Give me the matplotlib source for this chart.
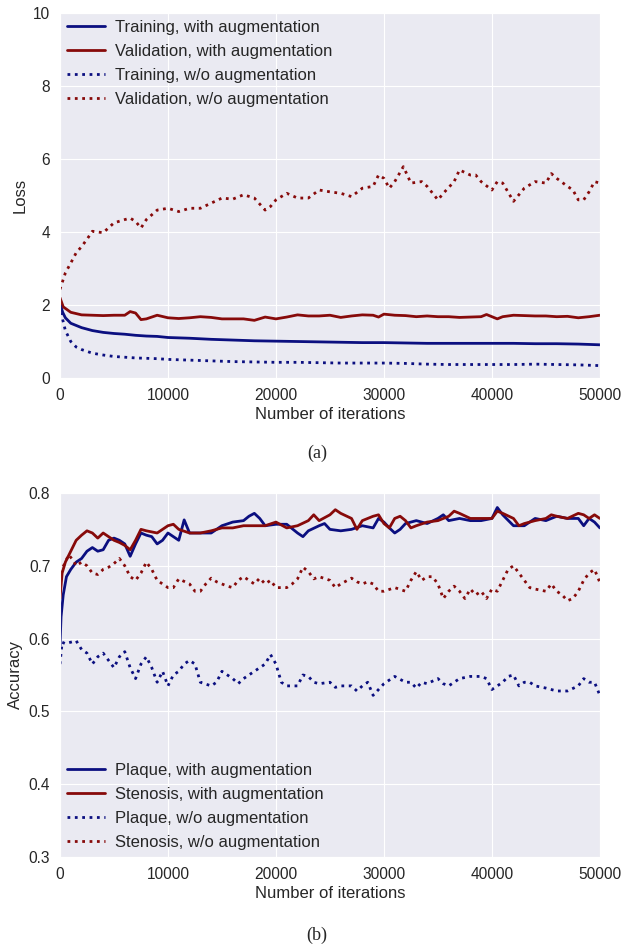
import matplotlib
matplotlib.use('Agg')
import matplotlib.pyplot as plt
import seaborn as sns

# ---------------- (a) loss ----------------
it_val_noaug = [0, 500, 1000, 1500, 2000, 2500, 3000, 4000, 5000, 6000, 6500, 7000, 7500, 8000, 9000,
                10000, 11000, 12000, 13000, 14000, 15000, 16000, 17000, 18000, 19000, 19500, 20000,
                21000, 22000, 23000, 24000, 25000, 26000, 27000, 28000, 29000, 29500, 30000, 30500,
                31000, 31800, 32500, 33500, 34000, 35000, 35500, 36500, 37000, 38000, 38500, 39000,
                40000, 40500, 41000, 42000, 43000, 44000, 45000, 45500, 46000, 47000, 47500, 48000,
                48500, 49000, 49500, 50000]
loss_val_noaug = [2.43, 2.88, 3.15, 3.43, 3.6, 3.8, 4.02, 3.98, 4.25, 4.34, 4.38, 4.29, 4.11, 4.34, 4.6,
                  4.65, 4.56, 4.65, 4.65, 4.79, 4.93, 4.9, 5.02, 4.93, 4.6, 4.7, 4.88,
                  5.06, 4.93, 4.93, 5.15, 5.1, 5.06, 4.97, 5.2, 5.25, 5.56, 5.47, 5.2,
                  5.38, 5.79, 5.34, 5.38, 5.25, 4.88, 5.06, 5.38, 5.7, 5.56, 5.56, 5.38,
                  5.15, 5.38, 5.34, 4.84, 5.2, 5.38, 5.34, 5.6, 5.47, 5.25, 5.15, 4.88,
                  4.88, 5.1, 5.38, 5.34]

it_val_aug = [0, 300, 1000, 2000, 3000, 4000, 5000, 6000, 6500, 7000, 7500, 8000, 9000, 10000, 11000,
              12000, 13000, 14000, 15000, 16000, 17000, 18000, 19000, 20000, 21000, 22000, 23000,
              24000, 25000, 26000, 27000, 28000, 29000, 29500, 30000, 31000, 32000, 33000, 34000,
              35000, 36000, 37000, 38000, 39000, 39500, 40500, 41000, 42000, 43000, 44000, 45000,
              46000, 47000, 48000, 49000, 50000]
loss_val_aug = [2.2, 1.95, 1.8, 1.73, 1.72, 1.71, 1.72, 1.72, 1.82, 1.78, 1.6, 1.62, 1.72, 1.65, 1.63,
                1.65, 1.68, 1.66, 1.62, 1.62, 1.62, 1.58, 1.67, 1.62, 1.67, 1.73, 1.7,
                1.7, 1.72, 1.66, 1.7, 1.73, 1.72, 1.67, 1.75, 1.72, 1.71, 1.68, 1.7,
                1.68, 1.68, 1.66, 1.67, 1.68, 1.74, 1.62, 1.68, 1.72, 1.71, 1.7, 1.7,
                1.68, 1.69, 1.65, 1.68, 1.72]

it_train = [0, 250, 500, 1000, 2000, 3000, 4000, 5000, 6000, 7000, 8000, 9000, 10000, 12000, 14000,
            16000, 18000, 20000, 22000, 24000, 26000, 28000, 30000, 32000, 34000, 36000, 38000,
            40000, 42000, 44000, 46000, 48000, 50000]
loss_train_aug = [2.05, 1.8, 1.65, 1.5, 1.38, 1.3, 1.25, 1.22, 1.2, 1.17, 1.15, 1.14, 1.11, 1.09, 1.06,
                  1.04, 1.02, 1.01, 1.0, 0.99, 0.98, 0.97, 0.97, 0.96, 0.95, 0.95, 0.95,
                  0.95, 0.95, 0.94, 0.94, 0.93, 0.91]

it_train_noaug = [0, 250, 500, 1000, 1500, 2000, 3000, 4000, 5000, 6000, 7000, 8000, 9000, 10000, 12000,
                  14000, 16000, 18000, 20000, 22000, 24000, 26000, 28000, 30000, 32000, 34000, 36000,
                  38000, 40000, 42000, 44000, 46000, 48000, 50000]
loss_train_noaug = [2.0, 1.6, 1.3, 1.0, 0.85, 0.78, 0.68, 0.63, 0.59, 0.57, 0.55, 0.54, 0.53, 0.51, 0.49,
                    0.47, 0.45, 0.44, 0.43, 0.43, 0.42, 0.41, 0.41, 0.41, 0.4, 0.38, 0.37,
                    0.37, 0.37, 0.37, 0.38, 0.37, 0.36, 0.34]

# ---------------- (b) accuracy ----------------
it_plaque_aug = [0, 100, 300, 600, 1000, 1500, 2000, 2500, 3000, 3500, 4000, 4500, 5000, 5500, 6000,
                 6500, 7000, 7500, 8000, 8500, 9000, 9500, 10000, 10500, 11000, 11500, 12000, 12500,
                 13000, 14000, 15000, 16000, 17000, 17500, 18000, 18500, 19000, 20000, 21000, 22000,
                 22500, 23000, 24000, 24500, 25000, 26000, 27000, 28000, 29000, 29500, 30000, 30500,
                 31000, 31500, 32000, 33000, 34000, 35000, 35500, 36000, 37000, 38000, 39000, 40000,
                 40500, 41000, 42000, 43000, 44000, 45000, 46000, 47000, 48000, 48500, 49000, 49500,
                 50000]
acc_plaque_aug = [0.59, 0.63, 0.66, 0.685, 0.695, 0.705, 0.71, 0.72, 0.725, 0.72, 0.722, 0.735, 0.738, 0.735, 0.73,
                  0.713, 0.73, 0.745, 0.742, 0.74, 0.73, 0.735, 0.745, 0.74, 0.735, 0.763, 0.745, 0.745,
                  0.745, 0.745, 0.755, 0.76, 0.762, 0.768, 0.772, 0.765, 0.755, 0.757, 0.757, 0.745,
                  0.74, 0.748, 0.755, 0.758, 0.75, 0.748, 0.75, 0.755, 0.752, 0.765, 0.76, 0.752,
                  0.745, 0.75, 0.758, 0.762, 0.758, 0.765, 0.77, 0.762, 0.765, 0.762, 0.762, 0.765,
                  0.78, 0.77, 0.755, 0.755, 0.765, 0.762, 0.768, 0.765, 0.765, 0.755, 0.765, 0.76,
                  0.752]

it_sten_aug = [0, 200, 500, 1000, 1500, 2000, 2500, 3000, 3500, 4000, 4500, 5000, 5500, 6000, 6500,
               7000, 7500, 8000, 9000, 10000, 10500, 11000, 12000, 13000, 14000, 15000, 16000, 17000,
               18000, 19000, 20000, 21000, 22000, 23000, 23500, 24000, 25000, 25500, 26000, 27000,
               27500, 28000, 29000, 29500, 30000, 30500, 31000, 31500, 32000, 32500, 33000, 34000,
               35000, 35500, 36000, 36500, 37000, 38000, 39000, 40000, 40500, 41000, 42000, 42500,
               43000, 44000, 45000, 45500, 46000, 47000, 48000, 48500, 49000, 49500, 50000]
acc_sten_aug = [0.655, 0.69, 0.705, 0.72, 0.735, 0.742, 0.748, 0.745, 0.738, 0.745, 0.74, 0.735, 0.732, 0.728, 0.722,
                0.735, 0.75, 0.748, 0.745, 0.755, 0.757, 0.75, 0.745, 0.745, 0.748, 0.752, 0.752, 0.755,
                0.755, 0.755, 0.76, 0.752, 0.755, 0.762, 0.77, 0.762, 0.77, 0.777, 0.772, 0.765,
                0.75, 0.762, 0.768, 0.77, 0.758, 0.752, 0.765, 0.768, 0.762, 0.752, 0.755, 0.76,
                0.762, 0.765, 0.768, 0.775, 0.772, 0.765, 0.765, 0.765, 0.775, 0.772, 0.765, 0.755,
                0.758, 0.762, 0.765, 0.77, 0.768, 0.765, 0.772, 0.77, 0.765, 0.77, 0.765]

it_sten_noaug = [0, 500, 800, 1200, 1500, 2000, 2500, 3000, 3500, 4000, 4500, 5000, 5500, 6000, 6500,
                 7000, 7500, 8000, 8500, 9000, 10000, 10500, 11000, 12000, 12500, 13000, 13500, 14000,
                 14500, 15000, 15500, 16000, 16500, 17000, 17500, 18000, 18500, 19000, 19500, 20000,
                 21000, 21500, 22000, 22500, 23000, 23500, 24000, 25000, 25500, 26000, 27000, 27500,
                 28000, 28500, 29000, 29500, 30000, 31000, 32000, 32500, 33000, 33500, 34000, 34500,
                 35000, 35500, 36000, 36500, 37000, 37500, 38000, 38500, 39000, 39500, 40000, 40500,
                 41000, 41500, 42000, 42500, 43000, 43500, 44000, 45000, 45500, 46000, 46500, 47000,
                 47500, 48000, 48500, 49000, 49500, 50000]
acc_sten_noaug = [0.69, 0.705, 0.715, 0.708, 0.7, 0.705, 0.7, 0.69, 0.688, 0.695, 0.698, 0.703, 0.71, 0.7, 0.685,
                  0.68, 0.69, 0.705, 0.695, 0.68, 0.67, 0.67, 0.682, 0.675, 0.665, 0.665, 0.675, 0.683,
                  0.678, 0.675, 0.672, 0.67, 0.68, 0.685, 0.68, 0.675, 0.683, 0.675, 0.68, 0.67,
                  0.67, 0.675, 0.682, 0.698, 0.692, 0.682, 0.685, 0.68, 0.67, 0.675, 0.683, 0.678,
                  0.675, 0.678, 0.675, 0.665, 0.665, 0.67, 0.665, 0.68, 0.692, 0.68, 0.685, 0.685,
                  0.675, 0.655, 0.665, 0.672, 0.665, 0.655, 0.668, 0.66, 0.665, 0.655, 0.668, 0.665,
                  0.68, 0.695, 0.7, 0.69, 0.68, 0.67, 0.668, 0.665, 0.675, 0.665, 0.66, 0.652,
                  0.655, 0.665, 0.68, 0.69, 0.695, 0.677]

it_plaque_noaug = [0, 200, 500, 1000, 1500, 2000, 2500, 3000, 3500, 4000, 4500, 5000, 5500, 6000, 6500,
                   7000, 7500, 8000, 8500, 9000, 9500, 10000, 10500, 11000, 11500, 12000, 12500, 13000,
                   14000, 14500, 15000, 15500, 16000, 16500, 17000, 17500, 18000, 18500, 19000, 19500,
                   20000, 20500, 21000, 22000, 22500, 23000, 23500, 24000, 25000, 25500, 26000, 27000,
                   27500, 28000, 28500, 29000, 29500, 30000, 31000, 32000, 32500, 33000, 33500, 34000,
                   35000, 35500, 36000, 36500, 37000, 38000, 39000, 39500, 40000, 40500, 41000, 41500,
                   42000, 42500, 43000, 43500, 44000, 45000, 46000, 47000, 48000, 48500, 49000, 49500,
                   50000]
acc_plaque_noaug = [0.565, 0.595, 0.593, 0.595, 0.597, 0.585, 0.58, 0.565, 0.575, 0.58, 0.57, 0.56, 0.575, 0.582, 0.56,
                    0.545, 0.565, 0.575, 0.56, 0.54, 0.555, 0.535, 0.55, 0.555, 0.565, 0.57, 0.565, 0.54,
                    0.535, 0.54, 0.555, 0.55, 0.545, 0.538, 0.545, 0.55, 0.555, 0.56, 0.565, 0.578,
                    0.565, 0.54, 0.535, 0.535, 0.55, 0.548, 0.54, 0.538, 0.54, 0.533, 0.535, 0.535,
                    0.528, 0.535, 0.54, 0.522, 0.53, 0.538, 0.548, 0.54, 0.54, 0.532, 0.54, 0.538,
                    0.545, 0.538, 0.535, 0.54, 0.545, 0.548, 0.548, 0.545, 0.53, 0.535, 0.54, 0.548,
                    0.55, 0.535, 0.54, 0.54, 0.535, 0.532, 0.528, 0.528, 0.535, 0.545, 0.54, 0.54,
                    0.522]

xticks = [0, 10000, 20000, 30000, 40000, 50000]
blue = '#0b0f80'
red = '#870a0a'

sns.set_style('darkgrid')
plt.rcParams['font.family'] = ['Liberation Sans', 'DejaVu Sans']

fig = plt.figure(figsize=(6.3, 9.46), dpi=100)
ax1 = fig.add_axes([0.0952, 0.6004, 0.857, 0.3859])
ax2 = fig.add_axes([0.0952, 0.0941, 0.857, 0.3848])

leg_kw = dict(frameon=False, fontsize=12, handlelength=2.3, handletextpad=0.6,
              labelspacing=0.55, borderaxespad=0.1, borderpad=0.3)

ax1.plot(it_train, loss_train_aug, color=blue, lw=2, label='Training, with augmentation')
ax1.plot(it_val_aug, loss_val_aug, color=red, lw=2, label='Validation, with augmentation')
ax1.plot(it_train_noaug, loss_train_noaug, color=blue, lw=2, ls=':', label='Training, w/o augmentation')
ax1.plot(it_val_noaug, loss_val_noaug, color=red, lw=2, ls=':', label='Validation, w/o augmentation')
ax1.set_xlim(0, 50000)
ax1.set_ylim(0, 10)
ax1.set_xticks(xticks)
ax1.set_yticks([0, 2, 4, 6, 8, 10])
ax1.set_xlabel('Number of iterations', fontsize=12, labelpad=3)
ax1.set_ylabel('Loss', fontsize=12)
ax1.tick_params(labelsize=11.2)
ax1.legend(loc='upper left', **leg_kw)

ax2.plot(it_plaque_aug, acc_plaque_aug, color=blue, lw=2, label='Plaque, with augmentation')
ax2.plot(it_sten_aug, acc_sten_aug, color=red, lw=2, label='Stenosis, with augmentation')
ax2.plot(it_plaque_noaug, acc_plaque_noaug, color=blue, lw=2, ls=':', label='Plaque, w/o augmentation')
ax2.plot(it_sten_noaug, acc_sten_noaug, color=red, lw=2, ls=':', label='Stenosis, w/o augmentation')
ax2.set_xlim(0, 50000)
ax2.set_ylim(0.3, 0.8)
ax2.set_xticks(xticks)
ax2.set_yticks([0.3, 0.4, 0.5, 0.6, 0.7, 0.8])
ax2.set_xlabel('Number of iterations', fontsize=12, labelpad=3)
ax2.set_ylabel('Accuracy', fontsize=12)
ax2.tick_params(labelsize=11.2)
ax2.legend(loc='lower left', **leg_kw)

fig.text(0.503, 1 - 453 / 946, '(a)', ha='center', va='center', fontsize=13, family='Liberation Serif')
fig.text(0.503, 1 - 935 / 946, '(b)', ha='center', va='center', fontsize=13, family='Liberation Serif')

fig.savefig('out.png', dpi=100, facecolor='white')
plt.close(fig)
